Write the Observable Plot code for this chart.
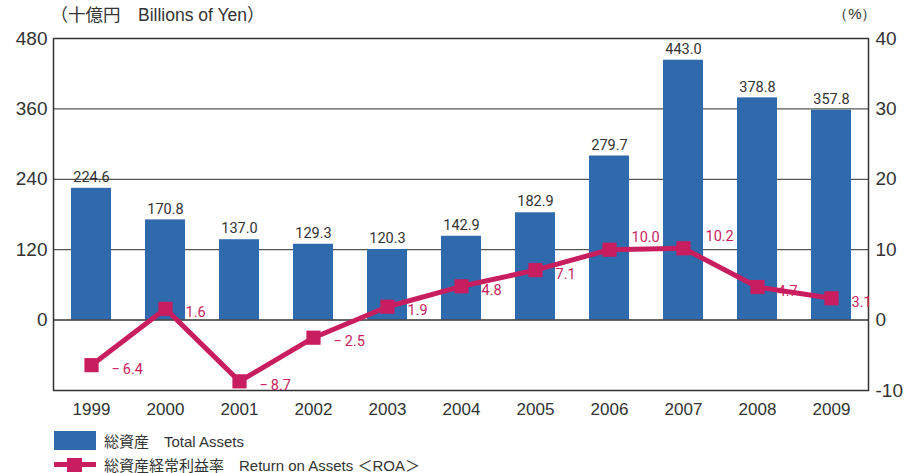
<!DOCTYPE html>
<html><head><meta charset="utf-8">
<script src="https://cdn.jsdelivr.net/npm/d3@7"></script>
<script src="https://cdn.jsdelivr.net/npm/@observablehq/plot@0.6"></script>
<style>
body{margin:0;background:#fff;font-family:"Liberation Sans","Noto Sans CJK JP",sans-serif;}
#legend{position:absolute;left:54px;top:428px;font-size:15px;color:#333;}
.row{display:flex;align-items:center;height:24px;}
.sw{width:42px;height:19px;background:#2f6aad;margin-right:8px;}
.ln{position:relative;width:42px;height:19px;margin-right:8px;}
.ln:before{content:"";position:absolute;left:0;right:0;top:7px;height:5px;background:#c81e5f;}
.ln:after{content:"";position:absolute;left:13px;top:3px;width:15px;height:14px;background:#c81e5f;}
</style></head>
<body><div id="chart"></div>
<div id="legend">
<div class="row"><div class="sw"></div><span>総資産　Total Assets</span></div>
<div class="row"><div class="ln"></div><span>総資産経常利益率　Return on Assets ＜ROA＞</span></div>
</div>
<script>
const years = ["1999","2000","2001","2002","2003","2004","2005","2006","2007","2008","2009"];
const totalAssets = [224.6,170.8,137.0,129.3,120.3,142.9,182.9,279.7,443.0,378.8,357.8];
const roa = [-6.4,1.6,-8.7,-2.5,1.9,4.8,7.1,10.0,10.2,4.7,3.1];
const leftTicks = [0,120,240,360,480];
const rightTicks = [-10,0,10,20,30,40];
const ratio = 12;

const bars = years.map((y,i)=>({year:y, v:totalAssets[i]}));
const pts = years.map((y,i)=>({year:y, r:roa[i], y:roa[i]*ratio, i}));
const fmtR = d => (d<0 ? "−\u2009" : "") + Math.abs(d).toFixed(1);
const pink = "#c81e5f", blue = "#2f6aad";

const chart = Plot.plot({
  width:915, height:425,
  marginLeft:53, marginRight:47, marginTop:38, marginBottom:35,
  style:{fontFamily:"Liberation Sans, sans-serif", color:"#333", background:"#fff"},
  x:{domain:years, paddingInner:0.46, paddingOuter:0.23, label:null},
  y:{domain:[-120,480], label:null},
  marks:[
    Plot.ruleY([120,240,360],{stroke:"#555",strokeWidth:1.2}),
    Plot.barY(bars,{x:"year",y:"v",fill:blue}),
    Plot.ruleY([0],{stroke:"#333",strokeWidth:1.5}),
    Plot.frame({stroke:"#333",strokeWidth:1.5}),
    Plot.text(bars,{x:"year",y:"v",text:d=>d.v.toFixed(1),dy:-11,fontSize:14.5,fill:"#333",fontFamily:"Roboto, sans-serif"}),
    Plot.line(pts,{x:"year",y:"y",stroke:pink,strokeWidth:5,strokeLinejoin:"miter"}),
    Plot.dot(pts,{x:"year",y:"y",symbol:"square",r:8,fill:pink}),
    Plot.text(pts.filter(d=>d.r>=9.5),{x:"year",y:"y",text:d=>fmtR(d.r),dx:22,dy:-12,textAnchor:"start",fill:pink,fontSize:14.5,fontFamily:"Roboto, sans-serif"}),
    Plot.text(pts.filter(d=>d.r<9.5),{x:"year",y:"y",text:d=>fmtR(d.r),dx:20,dy:4,textAnchor:"start",fill:pink,fontSize:14.5,fontFamily:"Roboto, sans-serif"}),
    Plot.axisY(leftTicks,{anchor:"left",tickSize:0,tickPadding:6,fontSize:19,fill:"#333"}),
    Plot.axisY(rightTicks.map(d=>d*ratio),{anchor:"right",tickSize:0,tickPadding:7,fontSize:19,fill:"#333",tickFormat:d=>String(d/ratio)}),
    Plot.axisX({tickSize:0,tickPadding:12,fontSize:17,fill:"#333",label:null}),
    Plot.text(["（十億円　Billions of Yen）"],{frameAnchor:"top-left",dx:-3,dy:-30,textAnchor:"start",fontSize:17.5,fill:"#333",fontFamily:"Liberation Sans, Noto Sans CJK JP, sans-serif"}),
    Plot.text(["（%）"],{frameAnchor:"top-right",dx:8,dy:-30,textAnchor:"end",fontSize:15,fill:"#333"})
  ]
});
document.getElementById("chart").append(chart);
</script></body></html>
